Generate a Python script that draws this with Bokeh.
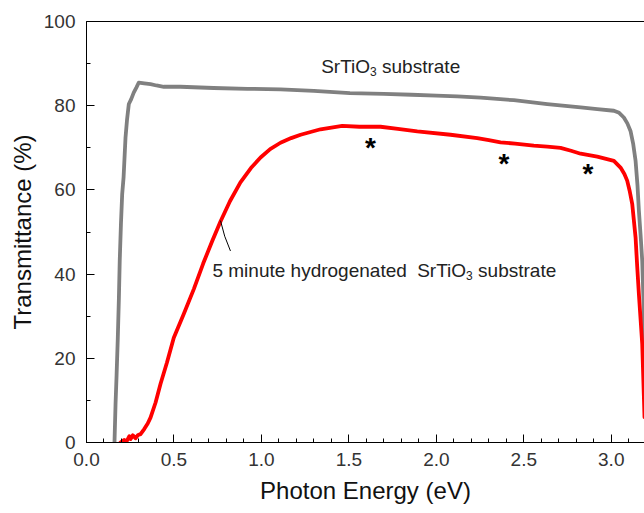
from bokeh.plotting import figure
from bokeh.models import Range1d, FixedTicker, LinearAxis, Label, NumeralTickFormatter
from bokeh.core.properties import value
from bokeh.embed import file_html
from bokeh.resources import INLINE

# ---- data ----
sto_energy = [0.160, 0.166, 0.172, 0.179, 0.185, 0.190, 0.197, 0.204, 0.212, 0.223, 0.232,
              0.242, 0.255, 0.270, 0.285, 0.299, 0.330, 0.366, 0.400, 0.442, 0.537, 0.726,
              0.920, 1.109, 1.300, 1.506, 1.700, 1.858, 2.000, 2.120, 2.253, 2.443, 2.634,
              2.825, 2.920, 3.015, 3.045, 3.072, 3.092, 3.110, 3.125, 3.139, 3.150, 3.158,
              3.168, 3.177, 3.186, 3.190, 3.195]
sto_trans = [0.0, 9.1, 16.0, 24.9, 34.0, 43.2, 52.0, 59.0, 63.0, 72.4, 76.8,
             80.4, 81.5, 83.1, 84.3, 85.5, 85.3, 85.1, 84.8, 84.5, 84.5, 84.2,
             84.0, 83.9, 83.5, 83.0, 82.8, 82.6, 82.4, 82.2, 81.9, 81.3, 80.4,
             79.6, 79.2, 78.8, 78.3, 77.2, 75.8, 74.0, 71.0, 66.9, 61.0, 55.0,
             49.0, 43.2, 31.3, 20.0, 10.0]

h_energy = [0.194, 0.215, 0.230, 0.245, 0.252, 0.265, 0.280, 0.295, 0.309, 0.330, 0.350,
            0.366, 0.395, 0.423, 0.460, 0.499, 0.556, 0.614, 0.667, 0.720, 0.766, 0.820,
            0.880, 0.940, 0.995, 1.050, 1.109, 1.170, 1.224, 1.338, 1.462, 1.560, 1.681,
            1.780, 1.891, 2.081, 2.234, 2.300, 2.367, 2.450, 2.557, 2.634, 2.710, 2.770,
            2.825, 2.920, 3.015, 3.053, 3.075, 3.091, 3.105, 3.120, 3.139, 3.148, 3.158,
            3.168, 3.177, 3.186, 3.190]
h_trans = [0.0, 0.6, 0.3, 1.5, 0.8, 1.7, 1.0, 1.8, 2.0, 3.2, 4.5,
           5.9, 9.5, 13.9, 19.0, 24.9, 30.5, 36.5, 42.5, 48.0, 52.5, 57.3,
           61.8, 65.2, 67.7, 69.7, 71.2, 72.3, 73.1, 74.4, 75.2, 75.0, 75.0,
           74.5, 73.9, 73.1, 72.3, 71.8, 71.3, 71.0, 70.5, 70.3, 70.0, 69.3,
           68.6, 67.9, 66.9, 65.3, 63.8, 62.2, 59.8, 56.6, 48.7, 42.0, 35.2,
           29.0, 23.4, 11.5, 6.0]

star_energy = [1.624, 2.386, 2.866]
star_trans = [71.0, 67.3, 64.9]

x_major_ticks = [0.0, 0.5, 1.0, 1.5, 2.0, 2.5, 3.0]
x_minor_ticks = [round(0.1 * i, 1) for i in range(0, 32)]
y_major_ticks = [0, 20, 40, 60, 80, 100]
y_minor_ticks = [0, 10, 20, 30, 40, 50, 60, 70, 80, 90, 100]

FONT = "Liberation Sans"

p = figure(width=644, height=513, output_backend="svg", toolbar_location=None,
           x_range=Range1d(0, 3.19), y_range=Range1d(0, 100),
           min_border_left=86, min_border_right=0, min_border_top=21, min_border_bottom=71)
p.outline_line_color = None
p.xgrid.grid_line_color = None
p.ygrid.grid_line_color = None
p.background_fill_color = "white"
p.border_fill_color = "white"

p.xaxis.ticker = FixedTicker(ticks=x_major_ticks, minor_ticks=x_minor_ticks)
p.yaxis.ticker = FixedTicker(ticks=y_major_ticks, minor_ticks=y_minor_ticks)
p.xaxis.formatter = NumeralTickFormatter(format="0.0")
p.yaxis.formatter = NumeralTickFormatter(format="0")

for ax in (p.xaxis[0], p.yaxis[0]):
    ax.axis_line_color = "black"
    ax.axis_line_width = 1
    ax.major_tick_line_color = "black"
    ax.minor_tick_line_color = "black"
    ax.major_tick_in = 8
    ax.major_tick_out = 0
    ax.minor_tick_in = 4
    ax.minor_tick_out = 0
    ax.major_label_text_font = FONT
    ax.major_label_text_font_size = "19px"
    ax.major_label_text_color = "#333333"
    ax.major_label_standoff = 10
    ax.axis_label_text_font = FONT
    ax.axis_label_text_font_size = "24px"
    ax.axis_label_text_font_style = "normal"
    ax.axis_label_text_color = "#111111"
    ax.axis_label_standoff = 8

p.yaxis.major_label_standoff = 11
p.yaxis.axis_label_standoff = 5

p.xaxis.axis_label = "Photon Energy (eV)"
p.yaxis.axis_label = "Transmittance (%)"

top_axis = LinearAxis(ticker=FixedTicker(ticks=[]), axis_line_color="black",
                      major_tick_line_color=None, minor_tick_line_color=None)
p.add_layout(top_axis, "above")

p.line(sto_energy, sto_trans, line_color="#808080", line_width=3.8, line_join="round", line_cap="round")
p.line(h_energy, h_trans, line_color="#ff0000", line_width=3.8, line_join="round", line_cap="round")

# leader line for the hydrogenated-curve label
p.line([0.766, 0.790, 0.823], [52.7, 49.0, 45.5], line_color="black", line_width=1)

p.text(x=star_energy, y=star_trans, text=["*"] * 3, text_font=value(FONT),
       text_font_size="28px", text_font_style="bold", text_align="center",
       text_baseline="alphabetic", y_offset=4, text_color="black")

TXT = "#222222"

# "SrTiO3 substrate"
p.add_layout(Label(x=1.621, y=89.3, text="SrTiO", text_align="right", text_baseline="alphabetic",
                   text_font=FONT, text_font_size="19px", text_color=TXT))
p.add_layout(Label(x=1.621, y=89.3, text="3", text_align="left", text_baseline="alphabetic",
                   y_offset=-5, text_font=FONT, text_font_size="12px", text_color=TXT))
p.add_layout(Label(x=1.621, y=89.3, text="substrate", text_align="left", text_baseline="alphabetic",
                   x_offset=12, text_font=FONT, text_font_size="19px", text_color=TXT))

# "5 minute hydrogenated  SrTiO3 substrate"
p.add_layout(Label(x=0.72, y=40.85, text="5 minute hydrogenated", text_align="left", text_baseline="alphabetic",
                   text_font=FONT, text_font_size="19px", text_color=TXT))
p.add_layout(Label(x=2.170, y=40.85, text="SrTiO", text_align="right", text_baseline="alphabetic",
                   text_font=FONT, text_font_size="19px", text_color=TXT))
p.add_layout(Label(x=2.170, y=40.85, text="3", text_align="left", text_baseline="alphabetic",
                   y_offset=-5, text_font=FONT, text_font_size="12px", text_color=TXT))
p.add_layout(Label(x=2.170, y=40.85, text="substrate", text_align="left", text_baseline="alphabetic",
                   x_offset=12, text_font=FONT, text_font_size="19px", text_color=TXT))

open("out.html", "w").write(file_html(p, INLINE))
